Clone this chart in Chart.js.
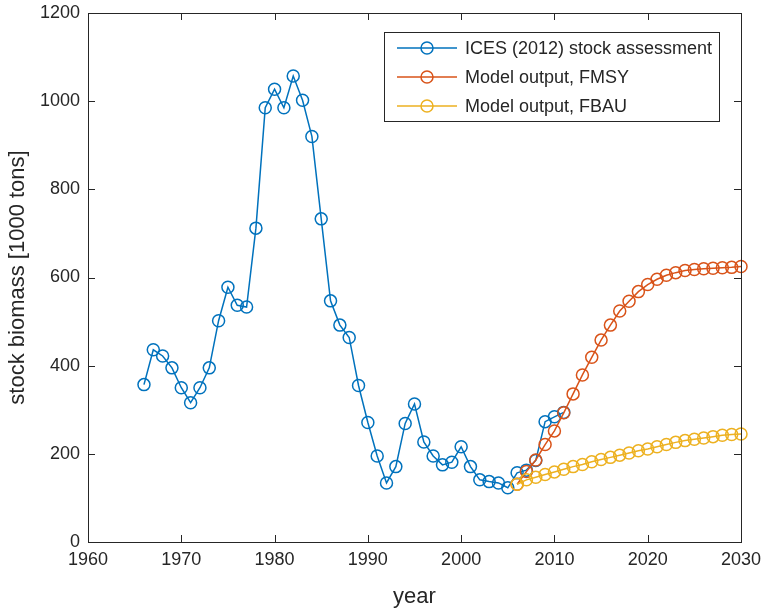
<!DOCTYPE html>
<html>
<head>
<meta charset="utf-8">
<script src="https://cdn.jsdelivr.net/npm/chart.js@4/dist/chart.umd.min.js"></script>
<style>
  html, body { margin: 0; padding: 0; background: #fff; }
</style>
</head>
<body>
<canvas id="stockChart" width="762" height="610"></canvas>
<script>
// ======================================================
// Data
// ======================================================

const icesYears = [
    1966, 1967, 1968, 1969, 1970, 1971, 1972, 1973, 1974, 1975,
    1976, 1977, 1978, 1979, 1980, 1981, 1982, 1983, 1984, 1985,
    1986, 1987, 1988, 1989, 1990, 1991, 1992, 1993, 1994, 1995,
    1996, 1997, 1998, 1999, 2000, 2001, 2002, 2003, 2004, 2005,
    2006, 2007, 2008, 2009, 2010, 2011
];

const icesBiomass = [
    357, 436, 422, 395, 350, 316, 350, 395, 502, 578,
    537, 533, 712, 985, 1027, 985, 1057, 1002, 920, 733,
    547, 492, 464, 355, 271, 195, 134, 171, 269, 313,
    227, 195, 175, 181, 216, 171, 141, 137, 134, 123,
    157, 163, 185, 273, 284, 294
];

const modelYears = [
    2006, 2007, 2008, 2009, 2010, 2011, 2012, 2013, 2014, 2015,
    2016, 2017, 2018, 2019, 2020, 2021, 2022, 2023, 2024, 2025,
    2026, 2027, 2028, 2029, 2030
];

const fmsyBiomass = [
    131, 160, 186, 221, 252, 293, 336, 379, 419, 458,
    492, 524, 546, 568, 584, 596, 605, 611, 616, 618,
    620, 621, 622, 623, 625
];

const fbauBiomass = [
    131, 141, 147, 153, 159, 165, 171, 176, 182, 187,
    192, 197, 202, 207, 211, 216, 221, 226, 230, 233,
    236, 239, 242, 244, 245
];

const xTicks = [1960, 1970, 1980, 1990, 2000, 2010, 2020, 2030];
const yTicks = [0, 200, 400, 600, 800, 1000, 1200];

const seriesNames = [
    "ICES (2012) stock assessment",
    "Model output, FMSY",
    "Model output, FBAU"
];

// ======================================================
// Theme
// ======================================================

const axisColor = "#262626";
const blue = "#0072BD";
const red = "#D95319";
const yellow = "#EDB120";
const fontFamily = "'Liberation Sans', Arial, Helvetica, sans-serif";

function toPoints(xs, ys) {
    return xs.map((x, i) => ({ x: x, y: ys[i] }));
}

function seriesStyle(color, order) {
    return {
        borderColor: color,
        backgroundColor: "transparent",
        borderWidth: 1.5,
        pointRadius: 6,
        pointBorderWidth: 1.5,
        pointBackgroundColor: "transparent",
        pointBorderColor: color,
        tension: 0,
        clip: false,
        order: order
    };
}

// ======================================================
// Plugins: box, inward ticks, legend
// ======================================================

const boxPlugin = {
    id: "boxPlugin",
    afterDatasetsDraw(chart) {
        const ctx = chart.ctx;
        const area = chart.chartArea;
        const xs = chart.scales.x;
        const ys = chart.scales.y;
        const len = 7;

        ctx.save();
        ctx.strokeStyle = axisColor;
        ctx.lineWidth = 1;

        ctx.strokeRect(area.left + 0.5, area.top + 0.5,
            area.right - area.left, area.bottom - area.top);

        ctx.beginPath();
        xTicks.forEach(v => {
            const px = Math.round(xs.getPixelForValue(v)) + 0.5;
            ctx.moveTo(px, area.bottom);
            ctx.lineTo(px, area.bottom - len);
            ctx.moveTo(px, area.top);
            ctx.lineTo(px, area.top + len);
        });
        yTicks.forEach(v => {
            const py = Math.round(ys.getPixelForValue(v)) + 0.5;
            ctx.moveTo(area.left, py);
            ctx.lineTo(area.left + len, py);
            ctx.moveTo(area.right, py);
            ctx.lineTo(area.right - len, py);
        });
        ctx.stroke();
        ctx.restore();
    }
};

const legendPlugin = {
    id: "legendPlugin",
    afterDraw(chart) {
        const ctx = chart.ctx;
        const colors = [blue, red, yellow];
        const left = 384;
        const top = 32;
        const width = 335;
        const height = 89;
        const rowGap = 29;

        ctx.save();
        ctx.fillStyle = "#fff";
        ctx.fillRect(left, top, width, height);
        ctx.strokeStyle = axisColor;
        ctx.lineWidth = 1;
        ctx.strokeRect(left + 0.5, top + 0.5, width, height);

        ctx.font = "18px " + fontFamily;
        ctx.textBaseline = "middle";
        ctx.textAlign = "left";

        seriesNames.forEach((name, i) => {
            const y = top + 16 + i * rowGap;
            ctx.strokeStyle = colors[i];
            ctx.lineWidth = 1.5;
            ctx.beginPath();
            ctx.moveTo(397, y);
            ctx.lineTo(457, y);
            ctx.stroke();
            ctx.beginPath();
            ctx.arc(427, y, 6, 0, Math.PI * 2);
            ctx.stroke();
            ctx.fillStyle = axisColor;
            ctx.fillText(name, 465, y + 1);
        });
        ctx.restore();
    }
};

// ======================================================
// Chart
// ======================================================

new Chart(document.getElementById("stockChart"), {
    type: "line",
    data: {
        datasets: [
            Object.assign({
                label: seriesNames[0],
                data: toPoints(icesYears, icesBiomass)
            }, seriesStyle(blue, 3)),
            Object.assign({
                label: seriesNames[1],
                data: toPoints(modelYears, fmsyBiomass)
            }, seriesStyle(red, 2)),
            Object.assign({
                label: seriesNames[2],
                data: toPoints(modelYears, fbauBiomass)
            }, seriesStyle(yellow, 1))
        ]
    },
    options: {
        responsive: false,
        animation: false,
        layout: {
            padding: { top: 13, right: 21, left: 0, bottom: 0 }
        },
        plugins: {
            legend: { display: false },
            tooltip: { enabled: false }
        },
        scales: {
            x: {
                type: "linear",
                min: 1960,
                max: 2030,
                afterBuildTicks: scale => {
                    scale.ticks = xTicks.map(v => ({ value: v }));
                },
                afterFit: scale => {
                    scale.height = 68;
                    scale.paddingLeft = 0;
                    scale.paddingRight = 0;
                },
                border: { display: false },
                grid: { display: false, drawTicks: false },
                ticks: {
                    color: axisColor,
                    font: { family: fontFamily, size: 18 },
                    padding: 7,
                    maxRotation: 0,
                    callback: v => String(v)
                },
                title: {
                    display: true,
                    text: "year",
                    color: axisColor,
                    font: { family: fontFamily, size: 22 },
                    padding: { top: 4, bottom: 0 }
                }
            },
            y: {
                min: 0,
                max: 1200,
                afterBuildTicks: scale => {
                    scale.ticks = yTicks.map(v => ({ value: v }));
                },
                afterFit: scale => {
                    scale.width = 88;
                    scale.paddingTop = 0;
                    scale.paddingBottom = 0;
                },
                border: { display: false },
                grid: { display: false, drawTicks: false },
                ticks: {
                    color: axisColor,
                    font: { family: fontFamily, size: 18 },
                    padding: 8,
                    callback: v => String(v)
                },
                title: {
                    display: true,
                    text: "stock biomass [1000 tons]",
                    color: axisColor,
                    font: { family: fontFamily, size: 22 },
                    padding: { top: 5, bottom: 4 }
                }
            }
        }
    },
    plugins: [boxPlugin, legendPlugin]
});
</script>
</body>
</html>
